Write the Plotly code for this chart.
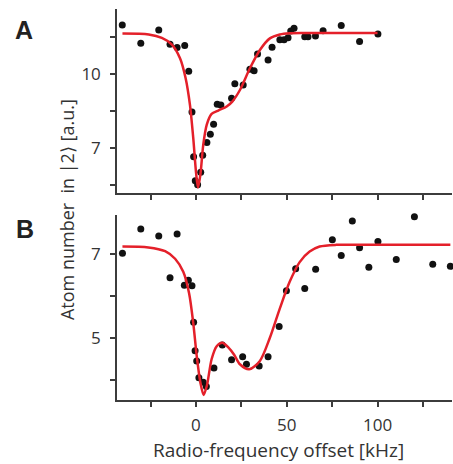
import plotly.graph_objects as go
from plotly.subplots import make_subplots

# ---- Panel A data ----
a_freq = [-40.6, -30.4, -20.5, -14.3, -10.4, -6.2, -4.0, -2.2, -1.3, -0.4, 0.9, 2.6, 3.7,
          6.0, 7.9, 9.7, 11.7, 13.7, 19.6, 21.4, 26.0, 29.7, 32.0, 33.9, 39.7, 41.9,
          46.2, 48.5, 50.7, 52.2, 54.0, 59.9, 61.7, 65.8, 70.0, 80.0, 90.1, 100.2]
a_atoms = [11.98, 11.24, 11.78, 11.20, 11.07, 11.15, 10.11, 8.46, 6.65, 5.68, 5.51, 6.02, 6.71,
           7.22, 7.56, 7.96, 8.77, 8.74, 9.02, 9.60, 9.55, 10.19, 10.13, 10.81, 10.57, 11.08,
           11.38, 11.38, 11.47, 11.74, 11.85, 11.51, 11.51, 11.54, 11.75, 11.96, 11.31, 11.62]
a_fit_freq = [-40.5, -26.0, -18.8, -13.4, -8.8, -5.7, -3.3, -1.5, 0.0, 1.1, 2.4, 4.0, 5.9,
              8.6, 12.3, 16.9, 20.0, 24.2, 29.7, 35.2, 40.7, 46.2, 51.6, 60.0, 100.0]
a_fit_atoms = [11.64, 11.60, 11.46, 11.20, 10.64, 9.83, 8.74, 7.40, 6.04, 5.40, 5.91, 7.13, 7.94,
               8.38, 8.52, 8.68, 8.88, 9.35, 10.23, 10.97, 11.44, 11.60, 11.65, 11.66, 11.66]

# ---- Panel B data ----
b_freq = [-40.5, -30.4, -20.5, -14.3, -10.4, -6.4, -4.2, -2.2, -1.3, -0.5, 0.4, 1.6, 4.0,
          5.7, 9.9, 14.5, 19.6, 25.7, 27.8, 34.8, 39.7, 45.8, 49.8, 54.9, 59.9, 65.9,
          75.1, 80.0, 86.1, 90.1, 95.2, 100.2, 110.3, 120.3, 130.4, 140.1]
b_atoms = [7.02, 7.60, 7.43, 6.44, 7.48, 6.26, 6.38, 6.25, 5.38, 4.70, 4.46, 4.06, 3.95,
           3.85, 4.29, 4.84, 4.49, 4.56, 4.38, 4.34, 4.56, 5.28, 6.13, 6.65, 6.18, 6.64,
           7.34, 6.97, 7.79, 7.15, 6.69, 7.30, 6.87, 7.89, 6.76, 6.71]
b_fit_freq = [-40.5, -26.2, -17.0, -11.5, -7.0, -3.8, -1.5, 0.4, 2.4, 4.2, 6.0, 8.6, 11.4,
              14.5, 17.8, 21.1, 24.2, 29.3, 35.2, 40.7, 46.2, 51.6, 57.1, 62.6, 68.1, 77.3,
              100.0, 140.1]
b_fit_atoms = [7.18, 7.16, 7.07, 6.89, 6.58, 6.07, 5.36, 4.58, 3.95, 3.65, 3.87, 4.50, 4.81,
               4.89, 4.78, 4.60, 4.38, 4.26, 4.46, 5.01, 5.71, 6.34, 6.81, 7.06, 7.18, 7.22,
               7.22, 7.22]

# ---- Tick labels ----
x_tickvals = [-25, 0, 25, 50, 75, 100, 125]
x_ticktext = ["", "0", "", "50", "", "100", ""]
a_tickvals = [5.5, 7, 8.5, 10, 11.5]
a_ticktext = ["", "7", "", "10", ""]
b_tickvals = [4, 5, 6, 7]
b_ticktext = ["", "5", "", "7"]

RED = "#e4202a"
AX = "#3c3c3c"
FONT = "Open Sans"

fig = make_subplots(rows=2, cols=1, shared_xaxes=False, vertical_spacing=0.05)

fig.add_trace(go.Scatter(x=a_freq, y=a_atoms, mode="markers", cliponaxis=False,
                         marker=dict(color="#111111", size=7), showlegend=False), row=1, col=1)
fig.add_trace(go.Scatter(x=a_fit_freq, y=a_fit_atoms, mode="lines",
                         line=dict(color=RED, width=2.5, shape="spline", smoothing=0.8),
                         showlegend=False), row=1, col=1)
fig.add_trace(go.Scatter(x=b_freq, y=b_atoms, mode="markers", cliponaxis=False,
                         marker=dict(color="#111111", size=7), showlegend=False), row=2, col=1)
fig.add_trace(go.Scatter(x=b_fit_freq, y=b_fit_atoms, mode="lines",
                         line=dict(color=RED, width=2.5, shape="spline", smoothing=0.8),
                         showlegend=False), row=2, col=1)

axis_common = dict(showline=True, linecolor=AX, linewidth=1.5, ticks="outside",
                   ticklen=5, tickwidth=1.5, tickcolor=AX, showgrid=False, zeroline=False,
                   tickfont=dict(family=FONT, size=17, color="#333333"))

fig.update_xaxes(range=[-43.5, 141], tickvals=x_tickvals, ticktext=x_ticktext, **axis_common)
fig.update_xaxes(showticklabels=False, row=1, col=1)
fig.update_yaxes(**axis_common)
fig.update_yaxes(range=[5.18, 12.63], tickvals=a_tickvals, ticktext=a_ticktext, row=1, col=1)
fig.update_yaxes(range=[3.53, 7.93], tickvals=b_tickvals, ticktext=b_ticktext, row=2, col=1)

fig.update_layout(
    width=453, height=464,
    margin=dict(l=117, r=1, t=9, b=64),
    plot_bgcolor="white", paper_bgcolor="white",
    yaxis=dict(domain=[0.5294, 1.0]),
    yaxis2=dict(domain=[0.0, 0.4731]),
    font=dict(family=FONT, color="#333333"),
)
fig.update_xaxes(ticklabelstandoff=4)
fig.update_yaxes(ticklabelstandoff=6)

fig.add_annotation(text="Atom number\u00a0\u00a0in |2\u27e9 [a.u.]", xref="paper", yref="paper",
                   x=-0.149, y=0.486, textangle=-90, showarrow=False,
                   font=dict(family=FONT, size=18, color="#333333"),
                   xanchor="center", yanchor="middle")
fig.add_annotation(text="Radio-frequency offset [kHz]", xref="paper", yref="paper",
                   x=0.481, y=-0.128, showarrow=False,
                   font=dict(family=FONT, size=19, color="#333333"),
                   xanchor="center", yanchor="middle")
fig.add_annotation(text="<b>A</b>", xref="paper", yref="paper", x=-0.278, y=0.946,
                   showarrow=False, font=dict(family="Liberation Sans", size=25, color="#222222"),
                   xanchor="center", yanchor="middle")
fig.add_annotation(text="<b>B</b>", xref="paper", yref="paper", x=-0.275, y=0.437,
                   showarrow=False, font=dict(family="Liberation Sans", size=25, color="#222222"),
                   xanchor="center", yanchor="middle")

fig.write_html("out.html", config={"displayModeBar": False},
               post_script="document.body.style.margin='0';document.body.style.overflow='hidden';")
